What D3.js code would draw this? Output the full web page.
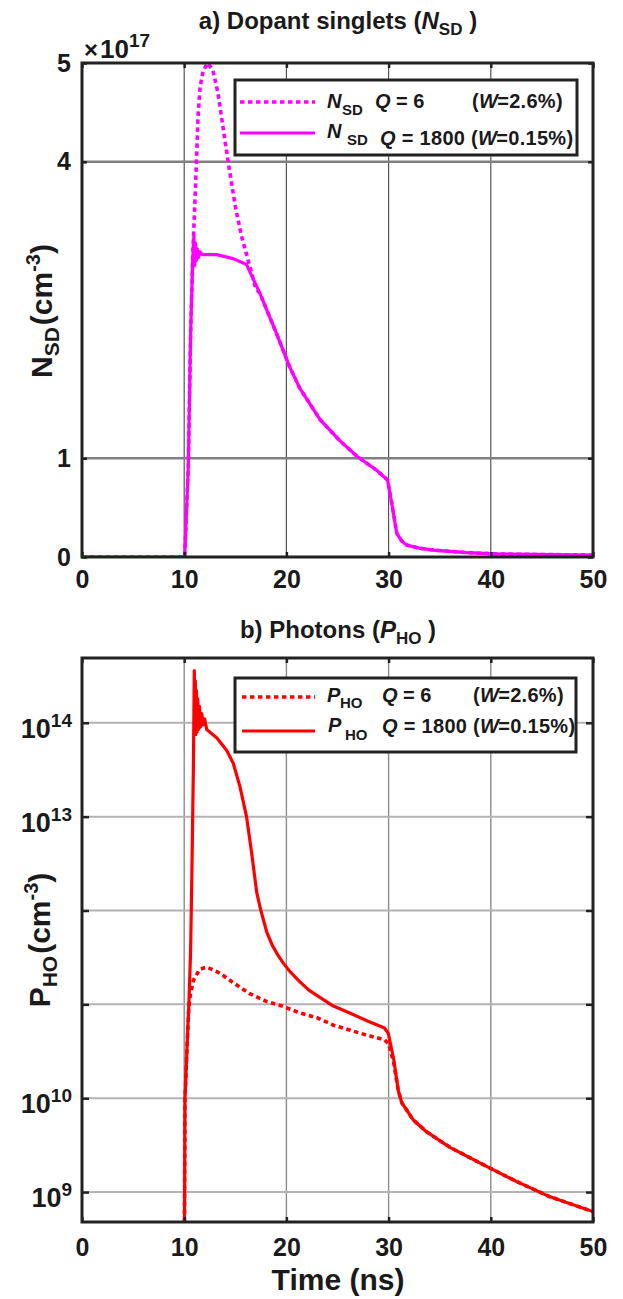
<!DOCTYPE html>
<html>
<head>
<meta charset="utf-8">
<script src="https://cdn.jsdelivr.net/npm/d3@7/dist/d3.min.js"></script>
<style>
body { margin: 0; background: #fff; }
text { font-family: "Liberation Sans", Arial, sans-serif; font-weight: bold; fill: #1a1a1a; }
</style>
</head>
<body>
<script>
// tick values
var timeTicks = [0, 10, 20, 30, 40, 50];
var nsdTicks = [0, 1, 4, 5];               // units of 1e17 cm^-3
var phoTicks = [1e9, 1e10, 1e11, 1e12, 1e13, 1e14];
var phoLabelled = [1e9, 1e10, 1e13, 1e14];

// a) dopant singlets, [time ns, N_SD in 1e17 cm^-3]
var nsdQ6 = [[0,0],[10.05,0],[10.4,0.91],[10.63,2.27],[10.85,3.1],[11.05,3.6],[11.2,4.0],[11.35,4.45],
  [11.55,4.75],[11.85,4.92],[12.3,5.0],[12.8,4.93],[13.3,4.7],[13.8,4.35],[14.3,4.0],[15.0,3.55],
  [15.6,3.25],[16.4,2.95],[17.0,2.72],[17.4,2.67],[19.0,2.27],[20.3,1.93],[21.3,1.71],[23.3,1.39],
  [25.2,1.18],[26.9,1.02],[28.8,0.88],[29.9,0.78],[30.3,0.55],[30.8,0.24],[31.3,0.16],[31.8,0.12],
  [33.0,0.09],[34.4,0.07],[37.6,0.045],[40.9,0.03],[50,0.02]];
var nsdQ1800 = [[0,0],[10.05,0],[10.4,0.91],[10.63,2.27],[10.83,3.0],[10.95,3.25],[11.02,2.95],
  [11.1,3.18],[11.18,3.0],[11.28,3.12],[11.4,3.03],[11.55,3.09],[11.8,3.06],[13.2,3.06],[14.8,3.02],
  [16.1,2.96],[17.4,2.67],[19.0,2.27],[20.3,1.93],[21.3,1.71],[23.3,1.39],[25.2,1.18],[26.9,1.02],
  [28.8,0.88],[29.9,0.78],[30.3,0.55],[30.8,0.24],[31.3,0.16],[31.8,0.12],[33.0,0.09],[34.4,0.07],
  [37.6,0.045],[40.9,0.03],[50,0.02]];

// b) photons, [time ns, P_HO in cm^-3]
var phoQ6 = [[10.0,1e8],[10.08,1e10],[10.3,4e10],[10.45,9e10],[10.57,1.2e11],[10.9,1.8e11],[11.5,2.35e11],
  [12.2,2.5e11],[13.5,2.15e11],[14.8,1.7e11],[16.4,1.3e11],[18.1,1.07e11],[19.7,9.5e10],[21.3,8.1e10],
  [23.0,7.2e10],[24.6,6.0e10],[27.85,4.7e10],[29.6,4.2e10],[30.0,3.8e10],[30.5,2.4e10],[30.95,1.2e10],
  [31.3,8.9e9],[31.8,7.4e9],[32.4,5.9e9],[33.7,4.4e9],[36.0,3.0e9],[39.3,1.95e9],[42.5,1.3e9],
  [45.8,8.9e8],[50.0,6.2e8]];
var phoQ1800 = [[10.0,1e8],[10.08,1e10],[10.3,4e10],[10.47,1.1e11],[10.63,3.8e11],[10.76,2.9e12],
  [10.9,3.4e13],[10.99,3.6e14],[11.04,8e13],[11.09,2.8e14],[11.14,7.5e13],[11.2,2.2e14],[11.26,8e13],
  [11.33,1.8e14],[11.4,8.5e13],[11.5,1.5e14],[11.6,9e13],[11.72,1.25e14],[11.85,9.5e13],[12.0,1.1e14],
  [12.2,8.5e13],[13.2,6.9e13],[14.15,5.1e13],[14.8,3.7e13],[15.45,2.1e13],[16.1,1.0e13],[16.6,4.1e12],
  [17.1,1.55e12],[17.5,1.0e12],[18.1,5.8e11],[18.6,4.3e11],[19.2,3.3e11],[19.7,2.75e11],[20.4,2.2e11],
  [21.3,1.75e11],[22.2,1.42e11],[23.2,1.2e11],[24.6,9.6e10],[26.2,8.1e10],[28.0,6.6e10],[29.6,5.6e10],
  [29.97,4.9e10],[30.5,2.6e10],[30.95,1.2e10],[31.3,8.9e9],[31.8,7.4e9],[32.4,5.9e9],[33.7,4.4e9],
  [36.0,3.0e9],[39.3,1.95e9],[42.5,1.3e9],[45.8,8.9e8],[50.0,6.2e8]];

var W = 623, H = 1299;
var left = 82, right = 593;
var frame = "#222";

var svg = d3.select("body").append("svg").attr("width", W).attr("height", H);

var x = d3.scaleLinear().domain([0, 50]).range([left, right]);
var ya = d3.scaleLinear().domain([0, 5]).range([557, 63]);
var yb = d3.scaleLog().domain([4.8e8, 4.9e14]).range([1222, 658]);

// rich text helper: parts = [{t, italic, shift, size, dx}]
function rich(g, px, py, size, parts, anchor){
	var t = g.append("text").attr("x", px).attr("y", py)
		.attr("font-size", size).attr("text-anchor", anchor || "start");
	var base = 0;
	parts.forEach(function(p){
		var s = t.append("tspan").text(p.t);
		if (p.italic) s.attr("font-style", "italic");
		if (p.size) s.attr("font-size", p.size);
		if (p.dx) s.attr("dx", p.dx);
		var sh = p.shift || 0;
		if (sh != base) { s.attr("dy", sh - base); base = sh; }
	});
	return t;
}

function panel(y, yTop, yBot, ticksY, gridStyle){
	var g = svg.append("g");
	// vertical grid
	g.selectAll(".vg").data(timeTicks.slice(1, -1)).enter().append("line")
		.attr("x1", x).attr("x2", x).attr("y1", yTop).attr("y2", yBot)
		.attr("stroke", gridStyle.vc).attr("stroke-width", gridStyle.vw);
	// horizontal grid
	g.selectAll(".hg").data(ticksY.filter(function(d){ return y(d) > yTop + 2 && y(d) < yBot - 2; })).enter().append("line")
		.attr("x1", left).attr("x2", right).attr("y1", y).attr("y2", y)
		.attr("stroke", gridStyle.hc).attr("stroke-width", gridStyle.hw);
	return g;
}

function curve(g, data, y, color, dashed, clipId){
	var line = d3.line().x(function(d){ return x(d[0]); }).y(function(d){ return y(d[1]); });
	g.append("path").datum(data)
		.attr("clip-path", "url(#" + clipId + ")")
		.attr("d", line).attr("fill", "none").attr("stroke", color)
		.attr("stroke-width", dashed ? 3.6 : 3.2)
		.attr("stroke-dasharray", dashed ? "4.5,3.5" : null)
		.attr("stroke-linejoin", "round");
}

function frameAxes(g, y, yTop, yBot, ticksY, leftFmt, padY, padX, tickLen){
	var bottom = g.append("g").attr("transform", "translate(0," + yBot + ")")
		.call(d3.axisBottom(x).tickValues(timeTicks).tickSizeInner(-5).tickSizeOuter(0).tickPadding(padX));
	bottom.selectAll("text").attr("font-size", 25);
	g.append("g").attr("transform", "translate(0," + yTop + ")")
		.call(d3.axisTop(x).tickValues(timeTicks).tickSizeInner(-5).tickSizeOuter(0).tickFormat(""));
	var la = g.append("g").attr("transform", "translate(" + left + ",0)")
		.call(d3.axisLeft(y).tickValues(ticksY).tickSizeInner(-tickLen).tickSizeOuter(0).tickPadding(padY).tickFormat(leftFmt));
	g.append("g").attr("transform", "translate(" + right + ",0)")
		.call(d3.axisRight(y).tickValues(ticksY).tickSizeInner(-tickLen).tickSizeOuter(0).tickFormat(""));
	g.selectAll(".domain").remove();
	g.selectAll(".tick line").attr("stroke", frame).attr("stroke-width", 2.5);
	g.selectAll(".tick text").attr("fill", "#1a1a1a").attr("font-family", null);
	g.append("rect").attr("x", left).attr("y", yTop).attr("width", right - left).attr("height", yBot - yTop)
		.attr("fill", "none").attr("stroke", frame).attr("stroke-width", 3);
	return la;
}

function legendBox(g, x0, y0, x1, y1){
	g.append("rect").attr("x", x0).attr("y", y0).attr("width", x1 - x0).attr("height", y1 - y0)
		.attr("fill", "#fff").attr("stroke", frame).attr("stroke-width", 3);
}

function legendSample(g, x0, x1, yy, color, dashed){
	g.append("line").attr("x1", x0).attr("x2", x1).attr("y1", yy).attr("y2", yy)
		.attr("stroke", color).attr("stroke-width", dashed ? 3.6 : 3.2)
		.attr("stroke-dasharray", dashed ? "4.5,3.5" : null);
}

var defs = svg.append("defs");
defs.append("clipPath").attr("id", "clipA").append("rect")
	.attr("x", left).attr("y", 50).attr("width", right - left).attr("height", 557 - 50);
defs.append("clipPath").attr("id", "clipB").append("rect")
	.attr("x", left).attr("y", 658).attr("width", right - left).attr("height", 1222 - 658);

// ---------- panel a ----------
var ga = panel(ya, 63, 557, nsdTicks, {vc: "#555", vw: 1.2, hc: "#808080", hw: 2.4});
curve(ga, nsdQ1800, ya, "#ff00ff", false, "clipA");
curve(ga, nsdQ6, ya, "#ff00ff", true, "clipA");
var laA = frameAxes(ga, ya, 63, 557, nsdTicks, d3.format("d"), 11, 13, 5);
laA.selectAll("text").attr("font-size", 25);

rich(svg, 338, 29, 24, [{t: "a) Dopant singlets ("}, {t: "N", italic: true}, {t: "SD", size: 17, shift: 6}, {t: " )", shift: 0}], "middle");
rich(svg, 84, 58, 24, [{t: "×"}, {t: "10", size: 26, dx: 2}, {t: "17", size: 19, shift: -11}]);

var yl = svg.append("g").attr("transform", "translate(52,311) rotate(-90)");
rich(yl, 0, 0, 30, [{t: "N"}, {t: "SD", size: 21, shift: 7}, {t: "(cm", shift: 0, dx: 2}, {t: "-3", size: 20, shift: -12}, {t: ")", shift: 0}], "middle");

legendBox(ga, 235, 80, 577, 155);
legendSample(ga, 240, 315, 102, "#ff00ff", true);
legendSample(ga, 240, 315, 133, "#ff00ff", false);
rich(ga, 327, 108, 20, [{t: "N", italic: true}]);
rich(ga, 342, 115, 15, [{t: "SD"}]);
rich(ga, 375, 108, 20, [{t: "Q", italic: true}, {t: " = 6"}]);
rich(ga, 472, 108, 20, [{t: "("}, {t: "W", italic: true}, {t: "=", dx: -1}, {t: "2.6%)"}]).attr("letter-spacing", 0.3);
rich(ga, 327, 138, 20, [{t: "N", italic: true}]);
rich(ga, 347, 145, 15, [{t: "SD"}]);
rich(ga, 380, 145, 20, [{t: "Q", italic: true}, {t: " = 1800 ("}, {t: "W", italic: true}, {t: "=", dx: -1}, {t: "0.15%)"}]).attr("letter-spacing", 0.3);

// ---------- panel b ----------
var gb = panel(yb, 658, 1222, phoTicks, {vc: "#8c8c8c", vw: 1.4, hc: "#b3b3b3", hw: 2});
curve(gb, phoQ1800, yb, "#ff0000", false, "clipB");
curve(gb, phoQ6, yb, "#ff0000", true, "clipB");
var laB = frameAxes(gb, yb, 658, 1222, phoTicks, function(d){ return phoLabelled.indexOf(d) >= 0 ? "10" : ""; }, 10, 16, 7);
laB.selectAll(".tick text").each(function(d){
	var t = d3.select(this);
	if (phoLabelled.indexOf(d) < 0) return;
	t.text("").attr("font-size", 27).attr("y", 6);
	t.append("tspan").text("10");
	t.append("tspan").attr("font-size", 19).attr("dy", -11).text(Math.round(Math.log10(d)));
});

rich(svg, 338, 638, 24, [{t: "b) Photons ("}, {t: "P", italic: true}, {t: "HO", size: 17, shift: 6}, {t: " )", shift: 0}], "middle");

var yl2 = svg.append("g").attr("transform", "translate(50,940) rotate(-90)");
rich(yl2, 0, 0, 30, [{t: "P"}, {t: "HO", size: 21, shift: 7}, {t: "(cm", shift: 0, dx: 2}, {t: "-3", size: 20, shift: -12}, {t: ")", shift: 0}], "middle");

legendBox(gb, 235, 678, 576, 752);
legendSample(gb, 242, 315, 697, "#ff0000", true);
legendSample(gb, 242, 315, 731, "#ff0000", false);
rich(gb, 327, 702, 20, [{t: "P", italic: true}]);
rich(gb, 340, 708, 15, [{t: "HO"}]);
rich(gb, 382, 702, 20, [{t: "Q", italic: true}, {t: " = 6"}]);
rich(gb, 473, 702, 20, [{t: "("}, {t: "W", italic: true}, {t: "=", dx: -1}, {t: "2.6%)"}]).attr("letter-spacing", 0.3);
rich(gb, 328, 732, 20, [{t: "P", italic: true}]);
rich(gb, 345, 740, 15, [{t: "HO"}]);
rich(gb, 382, 733, 20, [{t: "Q", italic: true}, {t: " = 1800 ("}, {t: "W", italic: true}, {t: "=", dx: -1}, {t: "0.15%)"}]).attr("letter-spacing", 0.3);

rich(svg, 338, 1290, 30, [{t: "Time (ns)"}], "middle");
</script>
</body>
</html>
